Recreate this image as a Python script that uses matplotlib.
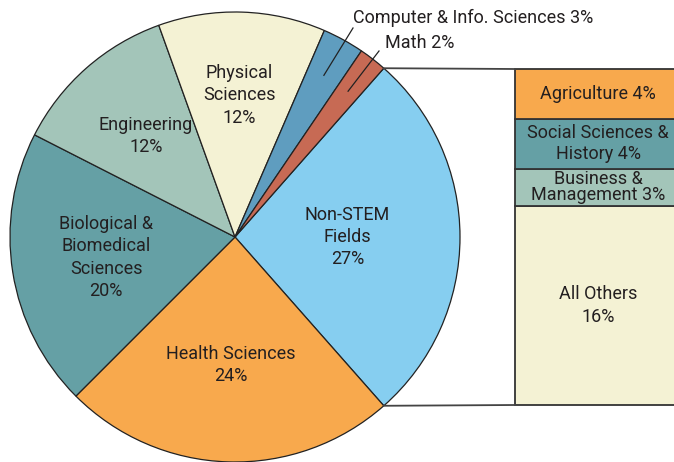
import numpy as np
import matplotlib.pyplot as plt

plt.rcParams['font.family'] = ['Roboto', 'DejaVu Sans']

# main pie
pie_labels = ['Non-STEM\nFields', 'Health Sciences', 'Biological &\nBiomedical\nSciences',
              'Engineering', 'Physical\nSciences', 'Computer & Info. Sciences', 'Math']
pie_values = [27, 24, 20, 12, 12, 3, 2]
pie_colors = ['#86CEF0', '#F8A94D', '#65A0A5', '#A3C5B9', '#F4F2D4', '#5F9DBF', '#C76A54']

# breakdown of Non-STEM fields (bottom to top)
bar_labels = ['All Others', 'Business &\nManagement', 'Social Sciences &\nHistory', 'Agriculture']
bar_values = [16, 3, 4, 4]
bar_colors = ['#F4F2D4', '#A3C5B9', '#65A0A5', '#F8A94D']

fig = plt.figure(figsize=(6.74, 4.62), dpi=100)
ax = fig.add_axes([0, 0, 1, 1])

cx, cy, R = 235, 225, 225
start = pie_values[0] / 2 * 3.6
wedges, _ = ax.pie(pie_values, colors=pie_colors, startangle=start, counterclock=False,
                   center=(cx, cy), radius=R, frame=True,
                   wedgeprops=dict(edgecolor='#222222', linewidth=0.9))
ax.set_xlim(0, 674)
ax.set_ylim(0, 462)
ax.set_aspect('equal')
ax.axis('off')

fs = 13
dist = [0.5, 0.57, 0.58, 0.6, 0.63]
for w, lab, v, d in zip(wedges[:5], pie_labels[:5], pie_values[:5], dist):
    ang = np.deg2rad((w.theta1 + w.theta2) / 2)
    ax.text(cx + d * R * np.cos(ang), cy + d * R * np.sin(ang), f'{lab}\n{v}%',
            ha='center', va='center', fontsize=fs, color='#231F20', linespacing=1.3)

# small slices with leader lines
label_pos = [(473, 444), (420, 419)]
line_end = [(353, 434), (379, 411)]
for w, lab, v, (tx, ty), (x1, y1) in zip(wedges[5:], pie_labels[5:], pie_values[5:],
                                         label_pos, line_end):
    ang = np.deg2rad((w.theta1 + w.theta2) / 2)
    x0, y0 = cx + 0.82 * R * np.cos(ang), cy + 0.82 * R * np.sin(ang)
    ax.plot([x0, x1], [y0, y1], color='#222222', lw=0.9)
    ax.text(tx, ty, f'{lab} {v}%', ha='center', va='center', fontsize=fs, color='#231F20')

# stacked bar of Non-STEM
bx, bw = 515, 200
top, bot = 393, 57
scale = (top - bot) / sum(bar_values)
spacing = [1.3, 0.85, 1.25, 1.0]
b = bot
for lab, v, c, ls in zip(bar_labels, bar_values, bar_colors, spacing):
    h = v * scale
    ax.bar(bx, h, width=bw, bottom=b, align='edge', color=c, edgecolor='#333333', linewidth=1.3)
    txt = f'{lab}\n{v}%' if lab == 'All Others' else f'{lab} {v}%'
    ax.text(bx + 83, b + h / 2, txt, ha='center', va='center', fontsize=fs,
            color='#231F20', linespacing=ls)
    b += h

# connector lines
a = np.deg2rad(start)
ax.plot([cx + R * np.cos(a), bx], [cy + R * np.sin(a), top], color='#444444', lw=1.3)
ax.plot([cx + R * np.cos(-a), bx], [cy + R * np.sin(-a), bot], color='#444444', lw=1.3)

fig.savefig('out.png', dpi=100)
